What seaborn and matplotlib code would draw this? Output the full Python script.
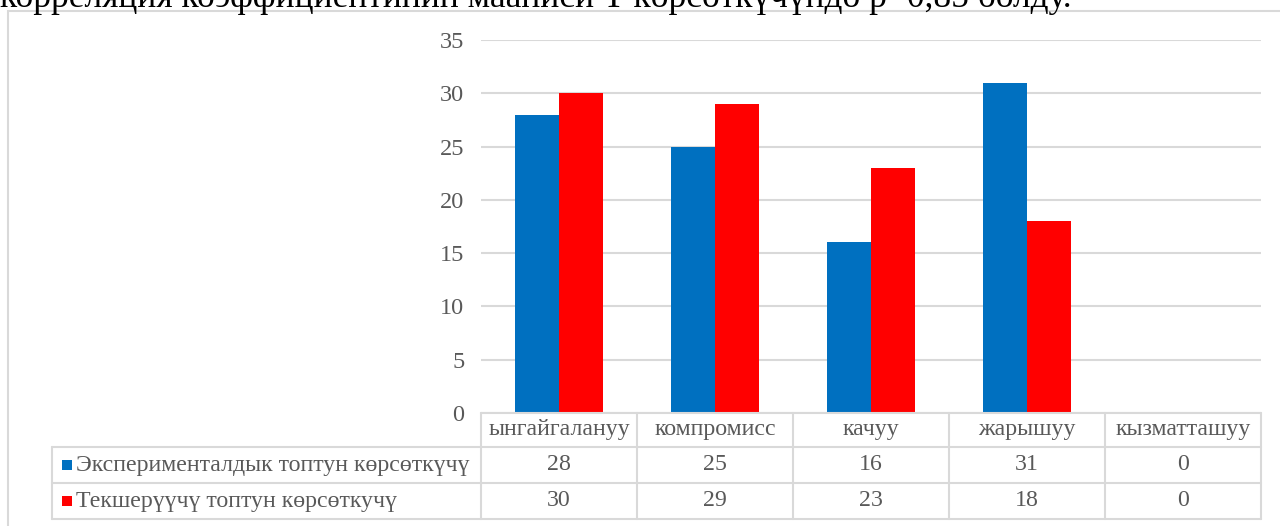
import numpy as np
import pandas as pd
import matplotlib
matplotlib.use("Agg")
import matplotlib.pyplot as plt
import matplotlib.transforms as mtransforms
from matplotlib.patches import Rectangle
import seaborn as sns

categories = ['ынгайгалануу', 'компромисс', 'качуу', 'жарышуу', 'кызматташуу']
series_names = ['Эксперименталдык топтун көрсөткүчү', 'Текшерүүчү топтун көрсөткучү']
exp_values = [28, 25, 16, 31, 0]
ctrl_values = [30, 29, 23, 18, 0]
yticks = [0, 5, 10, 15, 20, 25, 30, 35]
top_text = 'корреляция коэффициентинин мааниси Т көрсөткүчүндө р=0,85 болду.'

colors = ['#0070C0', '#FF0000']
grid_col = '#d9d9d9'
txt_col = '#595959'

df = pd.DataFrame({
    'category': categories * 2,
    'value': exp_values + ctrl_values,
    'group': [series_names[0]] * 5 + [series_names[1]] * 5,
})

sns.set_theme(style='white')
plt.rcParams['font.family'] = ['Liberation Serif', 'DejaVu Serif']

W, H = 1280, 526
fig = plt.figure(figsize=(W / 100, H / 100), dpi=100)
ax = fig.add_axes([481 / W, (H - 413) / H, 780 / W, (413 - 40) / H])

sns.barplot(data=df, x='category', y='value', hue='group', palette=colors,
            width=0.57, gap=0, saturation=1, edgecolor='none', legend=False, ax=ax)

ax.set_xlim(-0.5, len(categories) - 0.5)
ax.set_ylim(0, 35)
ax.set_yticks(yticks)
ax.set_yticklabels([str(t) for t in yticks], fontsize=17.5, color=txt_col)
ax.set_xticks([])
ax.set_xlabel('')
ax.set_ylabel('')
ax.tick_params(axis='y', length=0, pad=12)
for s in ax.spines.values():
    s.set_visible(False)
ax.yaxis.grid(True, color=grid_col, lw=1.5)
ax.set_axisbelow(True)

# data table under the plot
trans = mtransforms.blended_transform_factory(ax.transData, ax.transAxes)
axh = 413 - 40
rows = [0, -(447 - 413) / axh, -(483 - 413) / axh, -(519 - 413) / axh]
n = len(categories)
left_col = -0.5 - (481 - 52) / 156
lkw = dict(color=grid_col, lw=1.5, transform=trans, clip_on=False)

ax.plot([-0.5, n - 0.5], [rows[0], rows[0]], **lkw)
for r in rows[1:]:
    ax.plot([left_col, n - 0.5], [r, r], **lkw)
for i in range(n + 1):
    ax.plot([i - 0.5, i - 0.5], [rows[0], rows[3]], **lkw)
ax.plot([left_col, left_col], [rows[1], rows[3]], **lkw)

fs = 17.2
for i, c in enumerate(categories):
    ax.text(i, (rows[0] + rows[1]) / 2, c, ha='center', va='center',
            fontsize=fs, color=txt_col, transform=trans, clip_on=False)
    ax.text(i, (rows[1] + rows[2]) / 2, str(exp_values[i]), ha='center', va='center',
            fontsize=fs, color=txt_col, transform=trans, clip_on=False)
    ax.text(i, (rows[2] + rows[3]) / 2, str(ctrl_values[i]), ha='center', va='center',
            fontsize=fs, color=txt_col, transform=trans, clip_on=False)

for k, name in enumerate(series_names):
    ymid = (rows[k + 1] + rows[k + 2]) / 2
    ax.add_patch(Rectangle((left_col + 10 / 156, ymid - 5 / axh), 10 / 156, 10 / axh,
                           facecolor=colors[k], edgecolor='none', transform=trans,
                           clip_on=False))
    ax.text(left_col + 24 / 156, ymid, name, ha='left', va='center',
            fontsize=fs, color=txt_col, transform=trans, clip_on=False)

# chart frame (partly outside the picture)
fig.patches.append(Rectangle((8 / W, -0.1), 1.2, (H - 11) / H + 0.1,
                             transform=fig.transFigure, facecolor='none',
                             edgecolor=grid_col, lw=1.5))

# cut-off line of body text above the chart
fig.text(0, 1 - 7 / H, top_text, ha='left', va='baseline', fontsize=25.5,
         color='black')

fig.savefig('out.png', dpi=100)
